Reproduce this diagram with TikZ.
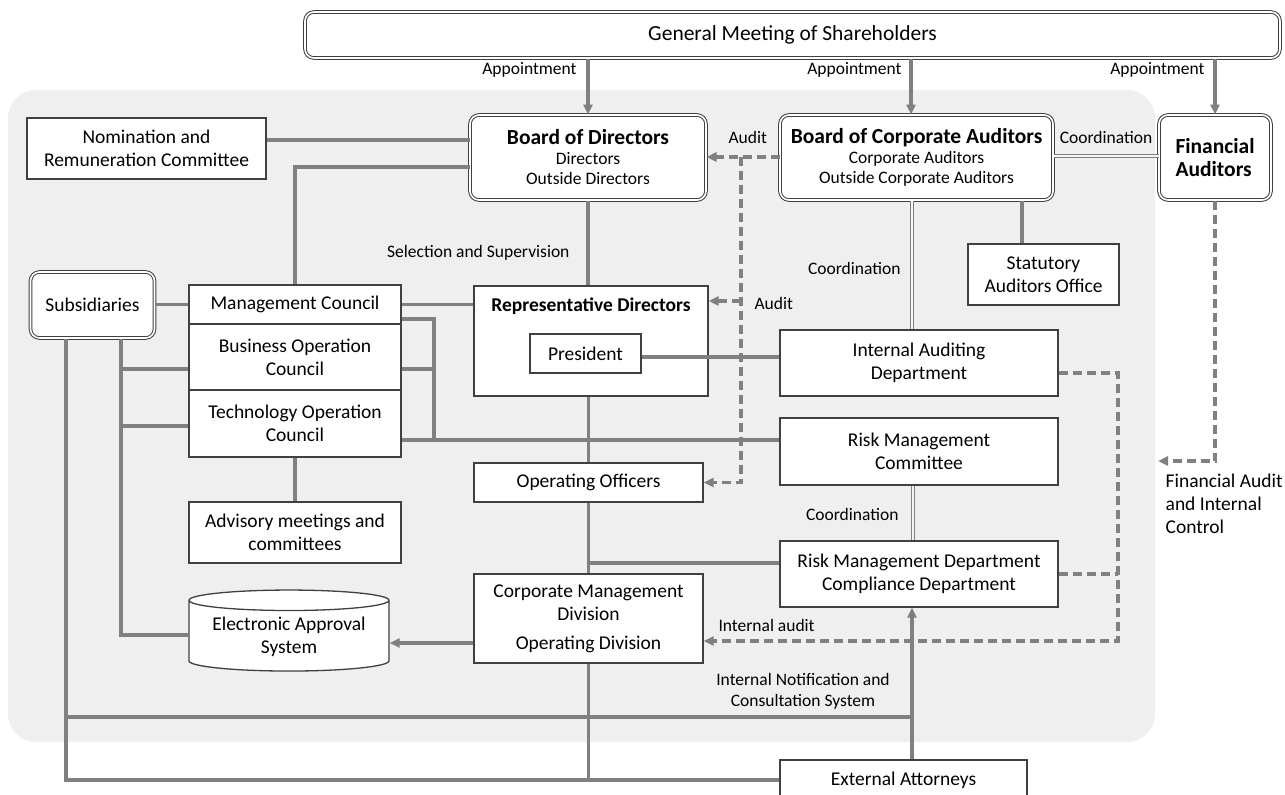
\documentclass[tikz,border=0pt]{standalone}
\usepackage{fontspec}
\setmainfont{Carlito}
\usetikzlibrary{arrows.meta,shapes.geometric}

\definecolor{bggray}{RGB}{239,239,239}
\definecolor{linegray}{RGB}{128,128,128}
\definecolor{edgegray}{RGB}{64,64,64}

\newcommand{\lblfont}{\fontsize{17.5}{21}\selectfont}
\newcommand{\hdfont}{\bfseries\fontsize{21.5}{20}\selectfont}
\newcommand{\subfont}{\fontsize{17.5}{20}\selectfont}

\tikzset{every picture/.style={line width=1pt}}
\tikzset{
  box/.style={draw=edgegray, line width=1.3pt, fill=white, align=center, inner sep=2pt,
    font=\fontsize{19.5}{23}\selectfont},
  rbox/.style={box, rounded corners=9pt, double=white, double distance=1.6pt, line width=1pt},
  link/.style={draw=linegray, line width=3.3pt},
  dlink/.style={link, dash pattern=on 9pt off 5pt},
  dbl/.style={draw=linegray, line width=1.5pt, double=bggray!60, double distance=1.5pt},
  tip/.style={-{Triangle[length=10pt,width=9pt]}},
  lbl/.style={font=\lblfont, align=center, inner sep=1pt}
}

\begin{document}
\begin{tikzpicture}[x=1pt,y=1pt,yscale=-1,xscale=1]
	\useasboundingbox (0,0) rectangle (1285,795);

	%Shape: Rounded background
	\fill [bggray, rounded corners=28pt] (8,90) rectangle (1155,742);

	% Top level
	\node [rbox, minimum width=975, minimum height=46, font=\fontsize{21.5}{24}\selectfont] (gms) at (792.5,35) {General Meeting of Shareholders};
	\node [rbox, minimum width=236, minimum height=85, font=\subfont] (bod) at (588,157.5) {{\hdfont Board of Directors}\\Directors\\Outside Directors};
	\node [rbox, minimum width=273, minimum height=85, font=\subfont] (boca) at (916.5,157.5) {{\hdfont Board of Corporate Auditors}\\Corporate Auditors\\Outside Corporate Auditors};
	\node [rbox, minimum width=112, minimum height=85, align=left] (fa) at (1215,157.5) {\hdfont Financial\\\hdfont Auditors};

	% Left column
	\node [box, minimum width=239, minimum height=61] (nrc) at (146.5,148.5) {Nomination and\\Remuneration Committee};
	\node [rbox, minimum width=124, minimum height=66] (subs) at (92.5,305) {Subsidiaries};
	\node [box, minimum width=212, minimum height=39] (mc) at (295,304.5) {Management Council};
	\node [box, minimum width=212, minimum height=66] (boc) at (295,357) {Business Operation\\Council};
	\node [box, minimum width=212, minimum height=67] (toc) at (295,423.5) {Technology Operation\\Council};
	\node [box, minimum width=212, minimum height=61] (adv) at (295,532.5) {Advisory meetings and\\committees};
	\node [box, shape=cylinder, shape border rotate=90, aspect=0.13, inner ysep=6pt, minimum width=200, minimum height=78] (eas) at (289,637) {Electronic Approval\\System};

	% Middle column
	\node [box, minimum width=234, minimum height=110, label={[anchor=north, yshift=-9pt, font=\bfseries\fontsize{19.5}{23}\selectfont]north:Representative Directors}] (rd) at (591,341) {};
	\node [box, minimum width=111, minimum height=39] (pres) at (585.5,353.5) {President};
	\node [box, minimum width=229, minimum height=39] (oo) at (588.5,482.5) {Operating Officers};
	\node [box, minimum width=229, minimum height=89] (cmd) at (588.5,618.5) {Corporate Management\\Division\\[6pt]Operating Division};

	% Right column
	\node [box, minimum width=151, minimum height=61] (sao) at (1043.5,274.5) {Statutory\\Auditors Office};
	\node [box, minimum width=278, minimum height=66] (iad) at (919,363) {Internal Auditing\\Department};
	\node [box, minimum width=278, minimum height=67] (rmc) at (919,451.5) {Risk Management\\Committee};
	\node [box, minimum width=278, minimum height=66] (rmd) at (919,574) {Risk Management Department\\Compliance Department};
	\node [box, minimum width=247, minimum height=40] (ea) at (903.5,780) {External Attorneys};

	%Straight Lines: appointments
	\draw [link, tip] (bod.north |- gms.south) -- (bod.north);
	\draw [link, tip] (911,0 |- gms.south) -- (911,0 |- boca.north);
	\draw [link, tip] (fa.north |- gms.south) -- (fa.north);
	\node [lbl, anchor=east] (app1) at (578,70) {Appointment};
	\node [lbl, anchor=east] (app2) at (903,70) {Appointment};
	\node [lbl, anchor=east] (app3) at (1206,70) {Appointment};

	%Straight Lines: board of directors
	\draw [link] (nrc.east |- 0,140) -- (bod.west |- 0,140);
	\draw [link] (bod.west |- 0,167) -| (mc.north);
	\draw [link] (bod.south) -- (bod.south |- rd.north);
	\node [lbl, anchor=east] (sel) at (571,253) {Selection and Supervision};

	%Straight Lines: councils
	\draw [link] (subs.east |- mc.west) -- (mc.west);
	\draw [link] (mc.east) -- (rd.west |- mc.east);
	\draw [link] (mc.east |- 0,319) -| (434,440);
	\draw [link] (boc.east |- 0,369) -- (434,369);
	\draw [link] (toc.east |- 0,440) -- (rmc.west |- 0,440);
	\draw [link] (toc.south) -- (adv.north);

	%Straight Lines: subsidiaries
	\draw [link] (121,0 |- subs.south) |- (eas.west |- 0,635);
	\draw [link] (121,369) -- (boc.west |- 0,369);
	\draw [link] (121,426) -- (toc.west |- 0,426);
	\draw [link] (66,0 |- subs.south) |- (ea.west |- 0,780);
	\draw [link] (66,717) -- (912,717);

	%Straight Lines: executive chain
	\draw [link] (oo.north |- rd.south) -- (oo.north);
	\draw [link] (oo.south) -- (cmd.north);
	\draw [link] (oo.south |- 0,563) -- (rmd.west |- 0,563);
	\draw [link] (cmd.south) -- (cmd.south |- 0,780);
	\draw [link, tip] (cmd.west |- 0,643) -- (eas.east |- 0,643);
	\draw [link] (pres.east |- 0,357) -- (iad.west |- 0,357);

	%Straight Lines: auditors
	\draw [dbl] (912,0 |- boca.south) -- (912,0 |- iad.north);
	\node [lbl, anchor=east] (coord1) at (902,268) {Coordination};
	\draw [link] (1022,0 |- boca.south) -- (1022,0 |- sao.north);
	\draw [dbl] (boca.east |- 0,156) -- (fa.west |- 0,156);
	\node [lbl] (coord2) at (1106,137) {Coordination};
	\draw [dbl] (913,0 |- rmc.south) -- (913,0 |- rmd.north);
	\node [lbl, anchor=east] (coord3) at (900,514) {Coordination};
	\draw [link, tip] (912,0 |- ea.north) -- (912,0 |- rmd.south);
	\node [lbl] (notif) at (803,691) {Internal Notification and\\Consultation System};

	%Dashed Lines: audits
	\draw [dlink, tip] (boca.west |- 0,157) -- (bod.east |- 0,157);
	\draw [dlink, tip] (741,157) |- (oo.east);
	\draw [dlink, tip] (741,301) -- (rd.east |- 0,301);
	\node [lbl, anchor=west] (aud1) at (727,137) {Audit};
	\node [lbl, anchor=west] (aud2) at (753,303) {Audit};
	\draw [dlink, tip] (iad.east |- 0,373) -- (1118,373) |- (cmd.east |- 0,641);
	\draw [dlink] (rmd.east) -- (1118,0 |- rmd.east);
	\node [lbl, anchor=west] (intaud) at (717,625) {Internal audit};
	\draw [dlink, tip] (fa.south) |- (1158,461);
	\node [box, draw=none, fill=none, anchor=north west, align=left] (fac) at (1163,471) {Financial Audit\\and Internal\\Control};

\end{tikzpicture}
\end{document}
